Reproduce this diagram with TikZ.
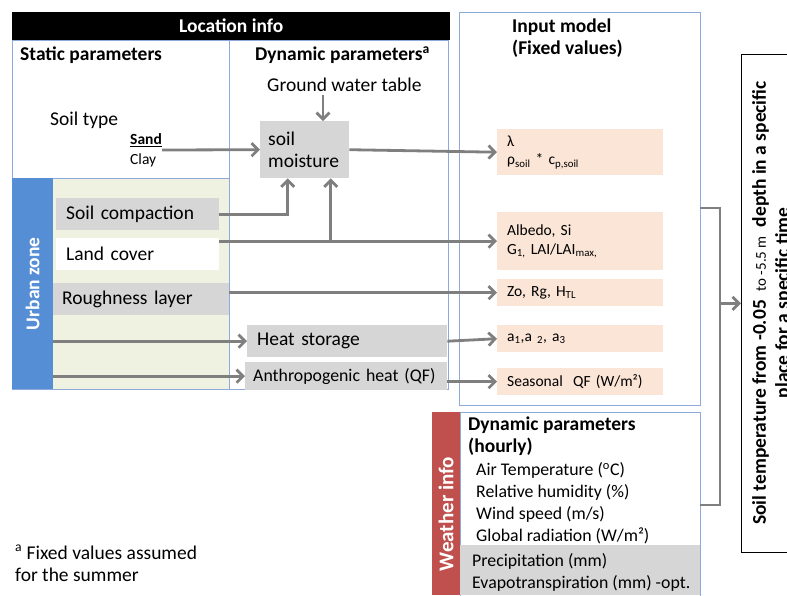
\documentclass[tikz,border=0pt]{standalone}
\usepackage{fontspec}
\setmainfont{Carlito}
\usetikzlibrary{arrows.meta,positioning}
\definecolor{boxgray}{HTML}{D6D6D6}
\definecolor{arrgray}{HTML}{7F7F7F}
\definecolor{peach}{HTML}{FBE5D6}
\definecolor{frameblue}{HTML}{8EA9DB}
\definecolor{urbanblue}{HTML}{558ED5}
\definecolor{urbangreen}{HTML}{EFF2E1}
\definecolor{weatherred}{HTML}{C0504D}
\newcommand{\bigfont}{\fontsize{19.5}{22}\selectfont}
\newcommand{\midfont}{\fontsize{17.8}{22}\selectfont}
\newcommand{\smallfont}{\fontsize{15.5}{18.5}\selectfont}

\tikzset{
  frame/.style={draw=frameblue,line width=0.9pt,anchor=north west,inner sep=0pt},
  greybox/.style={fill=boxgray,anchor=north west,align=left,inner ysep=2pt,font=\bigfont},
  peachbox/.style={fill=peach,anchor=north west,align=left,inner xsep=10pt,inner ysep=2pt,text width=146pt,font=\smallfont},
  txt/.style={inner sep=0pt,anchor=west,align=left,font=\bigfont},
  arr/.style={draw=arrgray,line width=2.8pt,-{Straight Barb[length=6.5pt,width=13pt]}},
  conn/.style={draw=arrgray,line width=2.8pt},
}

\begin{document}
\begin{tikzpicture}[x=1pt,y=-1pt]
        \useasboundingbox(0,0)rectangle(787,595);
        \node[fill=black,text=white,font=\bigfont\bfseries,minimum width=438,minimum height=28,anchor=north west,inner sep=0pt](loc)at(12,12){Location info};
        \node[frame,minimum width=217,minimum height=138](static)at(12,40){};
        \node[frame,minimum width=219,minimum height=349](dyn)at(229,40){};
        \node[frame,fill=urbangreen,minimum width=217,minimum height=211](urbanbg)at(12,178){};
        \node[fill=urbanblue,anchor=north west,minimum width=41,minimum height=211,inner sep=0pt](urban)at(12,178){};
        \node[rotate=90,text=white,font=\bigfont\bfseries](urbantxt)at(urban.center){Urban zone};
        \node[frame,minimum width=241,minimum height=393](input)at(459,12){};

        \node[txt,font=\bigfont\bfseries](statictxt)at(20,55){Static parameters};
        \node[txt,font=\bigfont\bfseries](dyntxt)at(255,55){Dynamic parameters\textsuperscript{a}};
        \node[txt](gwt)at(267,85){Ground water table};
        \node[txt](soiltype)at(50,120){Soil type};
        \node[txt,font=\fontsize{15.5}{20}\selectfont](soilclass)at(130,150){\textbf{\underline{Sand}}\\Clay};
        \node[greybox,text width=73pt,inner xsep=8pt,minimum height=57](moist)at(260,121){soil\\moisture};
        \node[txt,font=\bigfont\bfseries](inputtxt)at(512,38){Input model\\(Fixed values)};

        \node[greybox,text width=143pt,inner xsep=10pt,minimum height=32](comp)at(56,198){Soil compaction};
        \node[greybox,fill=white,text width=143pt,inner xsep=10pt,minimum height=32](land)at(56,238){Land cover};
        \node[greybox,text width=158pt,inner xsep=9pt,minimum height=32](rough)at(53,283){Roughness layer};
        \node[greybox,text width=180pt,inner xsep=10pt,minimum height=32](heat)at(247,325){Heat storage};
        \node[greybox,font=\midfont,text width=186pt,inner xsep=8pt,minimum height=28](anth)at(245,362){Anthropogenic heat (QF)};

        \node[peachbox,minimum height=46](lam)at(497,129){λ\\ρ\textsubscript{soil} * c\textsubscript{p,soil}};
        \node[peachbox,minimum height=58](albedo)at(497,212){Albedo, Si\\G\textsubscript{1,} LAI/LAI\textsubscript{max,}};
        \node[peachbox,minimum height=27](zo)at(497,279){Zo, Rg, H\textsubscript{TL}};
        \node[peachbox,minimum height=27](a1)at(497,325){a\textsubscript{1},a \textsubscript{2}, a\textsubscript{3}};
        \node[peachbox,minimum height=27](qf)at(497,368){Seasonal\ \ QF (W/m²)};

        \node[fill=weatherred,anchor=north west,minimum width=28,minimum height=183,inner sep=0pt](wstrip)at(432,412){};
        \node[rotate=90,text=white,font=\fontsize{21}{24}\selectfont\bfseries](wtxt)at(446,514){Weather info};
        \node[frame,fill=white,minimum width=240,minimum height=190](weather)at(460,412){};
        \node[fill=boxgray,anchor=north west,minimum width=240,minimum height=50,inner sep=0pt](wgray)at(460,545){};
        \node[txt,font=\bigfont\bfseries](wtitle)at(468,436){Dynamic parameters\\(hourly)};
        \node[txt,font=\midfont](witems)at(476,503){Air Temperature (\textsuperscript{o}C)\\Relative humidity (\%)\\Wind speed (m/s)\\Global radiation (W/m²)};
        \node[txt,font=\midfont](wextra)at(472,572){Precipitation (mm)\\Evapotranspiration (mm) -opt.};

        \node[draw=black,line width=0.8pt,anchor=north west,minimum width=80,minimum height=498,inner sep=0pt](result)at(741,54){};
        \node[rotate=90,align=center,font=\fontsize{19.5}{23}\selectfont\bfseries](restxt)at(772,303){Soil temperature from -0.05\ \ {\mdseries\fontsize{15}{23}\selectfont to -5.5 m}\ \ depth in a specific\\place for a specific time};

        \node[txt](note)at(15,563){\textsuperscript{a} Fixed values assumed\\for the summer};

        \coordinate(gwtend)at(323,95);
        \coordinate(compin)at([xshift=-17pt]moist.south);
        \coordinate(lcin)at([xshift=26pt]moist.south);
        \draw[arr](gwtend)--(gwtend|-moist.north);
        \draw[arr](soilclass.east)--(moist.west);
        \draw[arr](moist.east)--(lam.west);
        \draw[arr](comp.east)-|(compin);
        \draw[arr](land.east|-albedo.west)--(albedo.west);
        \draw[arr](lcin|-albedo.west)--(lcin);
        \draw[arr](rough.east|-zo.west)--(zo.west);
        \draw[arr](urban.east|-heat.west)--(heat.west);
        \draw[arr](heat.east)--(a1.west);
        \draw[arr](urban.east|-anth.west)--(anth.west);
        \draw[arr](anth.east|-qf.west)--(qf.west);

        \coordinate(brtop)at(700,208);
        \coordinate(brbot)at(700,505);
        \draw[conn](brtop)--++(20,0)coordinate(brmid)|-(brbot);
        \draw[arr](brmid|-result.west)--(result.west);
\end{tikzpicture}
\end{document}
